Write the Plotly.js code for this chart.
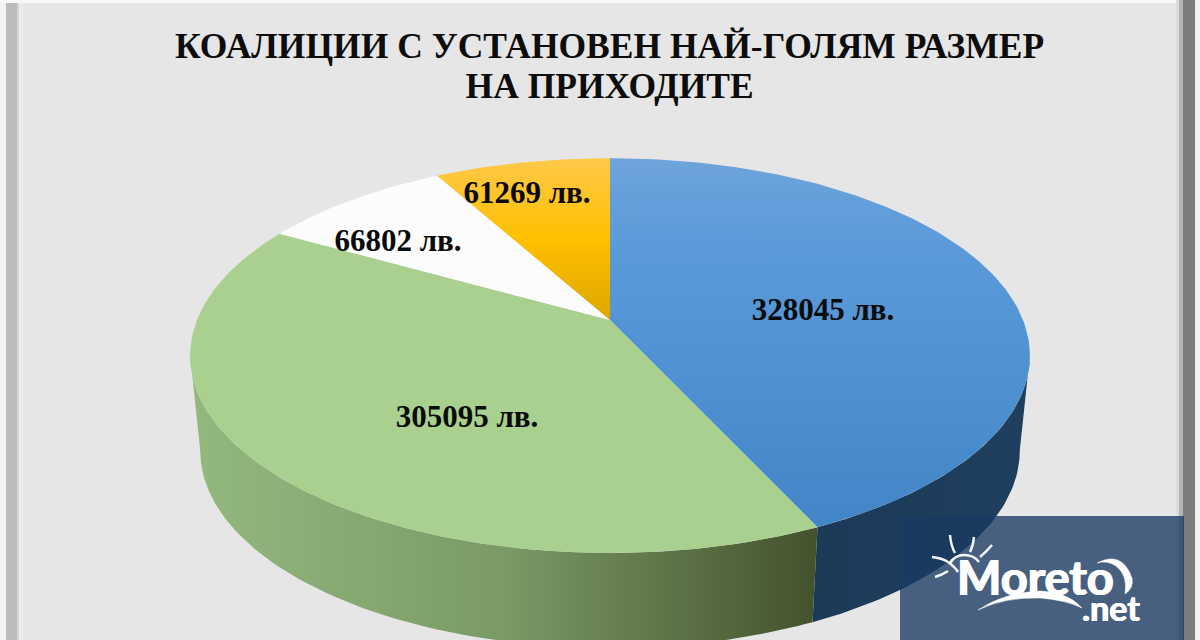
<!DOCTYPE html>
<html><head><meta charset="utf-8">
<script src="https://cdn.plot.ly/plotly-3.0.1.min.js"></script>
<style>html,body{margin:0;padding:0;background:#e6e6e6}#c{width:1200px;height:640px}</style>
</head><body><div id="c"></div>
<script>
const titleText = 'КОАЛИЦИИ С УСТАНОВЕН НАЙ-ГОЛЯМ РАЗМЕР<br>НА ПРИХОДИТЕ';
const values = [328045, 305095, 66802, 61269];
const unit = 'лв.';

const labelX = [823, 467, 398, 527];
const labelY = [312, 419, 243, 195];
const topColors = [
  [[0,'#6ea4dc'],[0.25,'#5a9ad9'],[1,'#4286c7']],
  [[0,'#a9d08e'],[1,'#a9d08e']],
  [[0,'#fdfdfd'],[1,'#fbfbfb']],
  [[0,'#ffc84a'],[0.5,'#ffc000'],[1,'#dda600']]
];
const wallColors = [
  [[0,'#1c3a58'],[1,'#1f3f5e']],
  [[0,'#93b97e'],[0.5,'#7b9a66'],[1,'#43522d']]
];

// perspective projection of the pie disc onto the page
const CX = 610, CY = 320, A = 413, B = 191, K = 0.18;
const DEPTH_X = 0.976, DEPTH_Y = 95;
function topPoint(deg){
  const t = deg*Math.PI/180, X = Math.sin(t), Y = Math.cos(t), w = 1 + K*Y;
  return [CX + A*X/w, CY - B*Y/w];
}
function bottomPoint(deg){
  const p = topPoint(deg);
  return [CX + (p[0]-CX)*DEPTH_X, p[1] + DEPTH_Y];
}
function arc(fn, a, b){
  const n = Math.max(2, Math.ceil(Math.abs(b-a)));
  const out = [];
  for(let i=0;i<=n;i++) out.push(fn(a+(b-a)*i/n));
  return out;
}
const total = values.reduce((s,v)=>s+v,0);
let acc = 0;
const spans = values.map(v=>{const s=[acc,acc+v/total*360];acc=s[1];return s;});

const traces = [];
// visible side wall between the two silhouette points of the disc
const silR = Math.acos(-K)*180/Math.PI, silL = 360 - silR;
[[silR, spans[0][1]], [spans[1][0], silL]].forEach((rng,i)=>{
  const pts = arc(topPoint,rng[0],rng[1]).concat(arc(bottomPoint,rng[1],rng[0]));
  pts.push(pts[0]);
  const xs = pts.map(p=>p[0]);
  traces.push({type:'scatter',mode:'lines',x:xs,y:pts.map(p=>p[1]),fill:'toself',
    line:{width:0},hoverinfo:'skip',showlegend:false,
    fillgradient:{type:'horizontal',colorscale:wallColors[i],
      start:Math.min(...xs),stop:Math.max(...xs)}});
});
// top face slices
spans.forEach((s,i)=>{
  const pts = [[CX,CY]].concat(arc(topPoint,s[0],s[1]));
  pts.push([CX,CY]);
  const ys = pts.map(p=>p[1]);
  traces.push({type:'scatter',mode:'lines',x:pts.map(p=>p[0]),y:ys,fill:'toself',
    line:{width:0},hoverinfo:'skip',showlegend:false,
    fillgradient:{type:'vertical',colorscale:topColors[i],
      start:Math.min(...ys),stop:Math.max(...ys)}});
});
// value labels
traces.push({type:'scatter',mode:'text',x:labelX,y:labelY,
  text:values.map(v=>v+' '+unit),textposition:'middle center',
  textfont:{family:'"Liberation Serif",serif',size:31,color:'#0b0b0b',weight:700},
  hoverinfo:'skip',showlegend:false});

const rect=(x0,x1,y0,y1,c)=>({type:'rect',xref:'x',yref:'y',x0,x1,y0,y1,fillcolor:c,line:{width:0},layer:'above'});
const stroke=(d,w)=>({type:'path',xref:'x',yref:'y',path:d,line:{color:'#f4f6f8',width:w},layer:'above'});
const fillp=(d)=>({type:'path',xref:'x',yref:'y',path:d,fillcolor:'#ffffff',line:{color:'#ffffff',width:0.5},layer:'above'});

const shapes = [
  // picture frame
  rect(0,6,0,640,'#f4f4f4'), rect(6,17,0,640,'#bcbcbc'), rect(17,19,0,640,'#d6d6d6'), rect(19,23,0,640,'#ececec'),
  rect(0,1200,0,3,'#f8f8f8'),
  rect(1176,1179,0,640,'#dcdcdc'), rect(1179,1183,0,640,'#b4b4b4'),
  rect(1183,1195,0,640,'#7d7d7d'), rect(1195,1200,0,640,'#f2f2f2'),
  // watermark panel
  rect(900,1184,516,640,'rgba(25,58,98,0.78)'),
  // sun rays
  stroke('M950,535 Q951,546 955,553',2.5),
  stroke('M974,537 Q973,546 970,552',2.5),
  stroke('M992,545 Q986,552 980,557',2.5),
  stroke('M932,557 Q942,558 948,562',2.5),
  stroke('M935,577 Q942,575 948,571',2.5),
  stroke('M950,563 Q955,555 964,555 Q974,555 979,562',2.5),
  stroke('M948,562 Q955,567 958,572',2.5),
  // swoosh and arc of the logo
  fillp('M978,610 Q1005,592 1040,591 Q1068,592 1082,608 Q1066,600 1040,598 Q1005,597 978,610 Z'),
  fillp('M1097,563 Q1122,550 1132,578 Q1134,588 1125,594 Q1128,575 1116,566 Q1107,560 1097,563 Z')
];
const annotations = [
  {xref:'x',yref:'y',x:1035,y:577,text:'<b>Moreto</b>',showarrow:false,xanchor:'center',yanchor:'middle',
   font:{family:'Lato',size:47,color:'#ffffff',shadow:'0.8px 0 0 #fff, -0.8px 0 0 #fff'}},
  {xref:'x',yref:'y',x:1111,y:607,text:'<b>.net</b>',showarrow:false,xanchor:'center',yanchor:'middle',
   font:{family:'Lato',size:34,color:'#ffffff',shadow:'0.6px 0 0 #fff, -0.6px 0 0 #fff'}}
];
const layout = {
  width:1200,height:640,margin:{l:0,r:0,t:0,b:0},
  paper_bgcolor:'#e6e6e6',plot_bgcolor:'#e6e6e6',showlegend:false,hovermode:false,
  title:{text:titleText,x:0.508,xanchor:'center',yref:'paper',y:0.909,yanchor:'middle',
    font:{family:'"Liberation Serif",serif',size:35.5,color:'#0d0d0d',weight:700}},
  xaxis:{range:[0,1200],visible:false,fixedrange:true},
  yaxis:{range:[640,0],visible:false,fixedrange:true},
  shapes,annotations
};
Plotly.newPlot('c',traces,layout,{displayModeBar:false,staticPlot:true}).then(gd=>{
  // the reference sets its two title lines closer than the default line height
  const lines = gd.querySelectorAll('.gtitle tspan.line');
  if(lines.length>1) lines[1].setAttribute('dy','1.13em');
});
</script></body></html>
